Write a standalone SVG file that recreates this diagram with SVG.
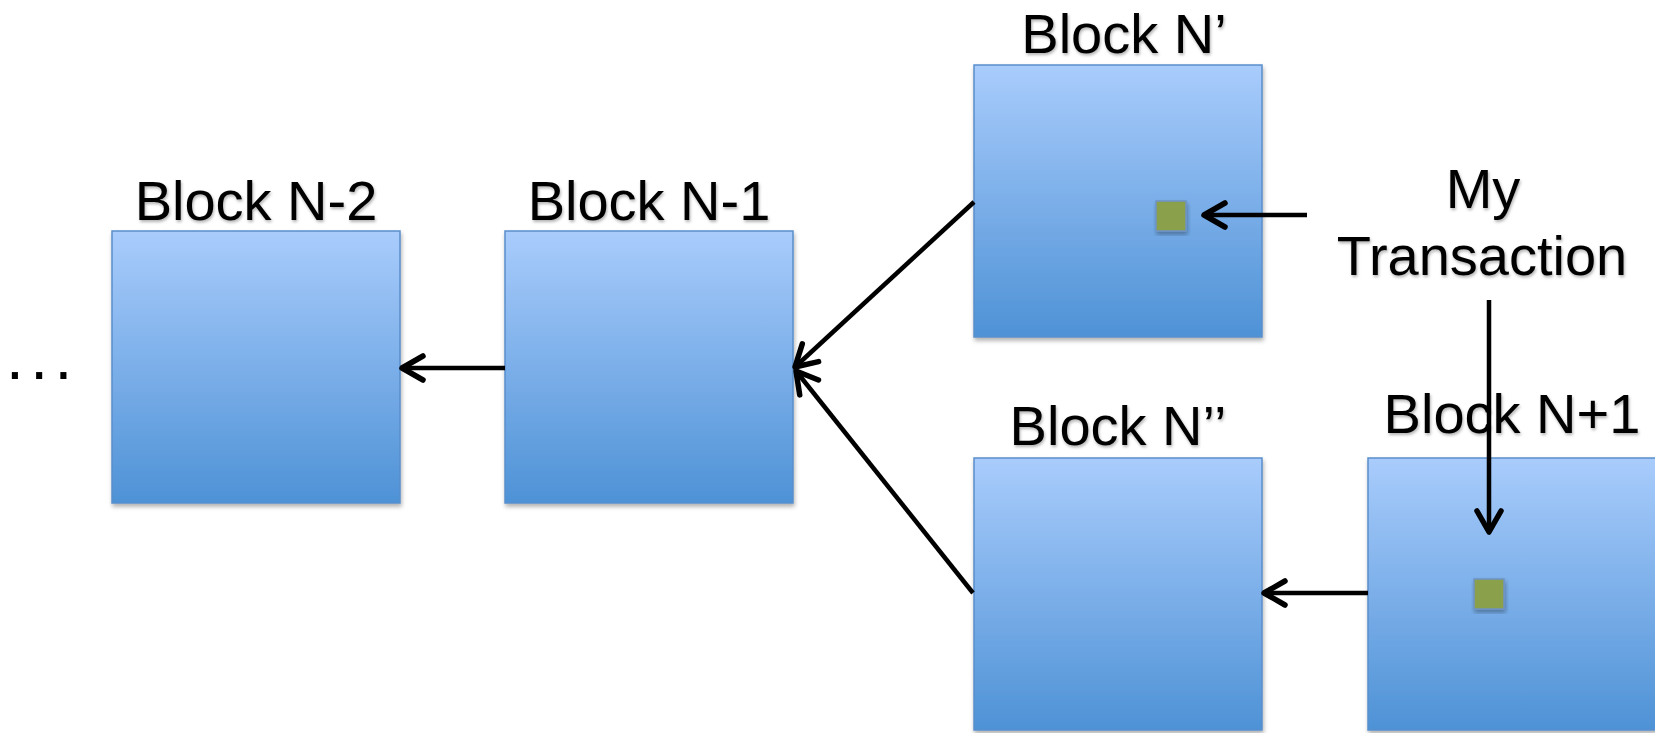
<svg xmlns="http://www.w3.org/2000/svg" width="1655" height="733" viewBox="0 0 1655 733">
  <style>
    .block { fill: url(#blueGrad); stroke: #5A8ECB; stroke-width: 1.5; filter: url(#boxShadow); }
    .tx { fill: #8AA04C; stroke: #6F93C4; stroke-width: 1.5; filter: url(#boxShadow); }
    .label { font-family: "Liberation Sans", Arial, sans-serif; font-size: 56px; fill: #000; text-anchor: middle; filter: url(#textShadow); }
    .dots { font-family: "Liberation Sans", Arial, sans-serif; font-size: 64px; fill: #000; letter-spacing: 6.5px; }
    .conn { stroke: #000; stroke-width: 4.5; fill: none; marker-end: url(#arrow); }
  </style>
  <defs>
    <linearGradient id="blueGrad" x1="0" y1="0" x2="0" y2="1">
      <stop offset="0" stop-color="#A9CCFC"/>
      <stop offset="1" stop-color="#4E92D6"/>
    </linearGradient>
    <filter id="boxShadow" x="-10%" y="-10%" width="125%" height="125%">
      <feDropShadow dx="1" dy="3" stdDeviation="2" flood-color="#000" flood-opacity="0.3"/>
    </filter>
    <filter id="textShadow" x="-10%" y="-20%" width="120%" height="150%">
      <feDropShadow dx="1" dy="2" stdDeviation="1.5" flood-color="#000" flood-opacity="0.3"/>
    </filter>
    <marker id="arrow" markerUnits="userSpaceOnUse" markerWidth="40" markerHeight="40" refX="0" refY="0" viewBox="-30 -20 40 40" orient="auto" overflow="visible">
      <path d="M -21 -12 L 0 0 L -21 12" fill="none" stroke="#000" stroke-width="5.5" stroke-linecap="round" stroke-linejoin="round"/>
    </marker>
  </defs>

  <text class="dots" x="6" y="379">...</text>

  <g id="block-n-2">
    <rect class="block" x="112" y="231" width="288" height="272"/>
    <text class="label" x="256" y="220">Block N-2</text>
  </g>

  <g id="block-n-1">
    <rect class="block" x="505" y="231" width="288" height="272"/>
    <text class="label" x="649" y="220">Block N-1</text>
  </g>

  <g id="block-n-prime">
    <rect class="block" x="974" y="65" width="288" height="272"/>
    <rect class="tx" x="1156" y="201" width="30" height="30"/>
    <text class="label" x="1124" y="53">Block N’</text>
  </g>

  <g id="block-n-double-prime">
    <rect class="block" x="974" y="458" width="288" height="272"/>
    <text class="label" x="1118" y="445">Block N’’</text>
  </g>

  <g id="my-transaction">
    <text class="label" x="1483" y="208">My</text>
    <text class="label" x="1482" y="275">Transaction</text>
  </g>

  <g id="block-n-plus-1">
    <rect class="block" x="1368" y="458" width="288" height="272"/>
    <rect class="tx" x="1474" y="579" width="30" height="30"/>
    <text class="label" x="1512" y="433">Block N+1</text>
  </g>

  <g id="connectors">
    <line class="conn" x1="505" y1="368" x2="402" y2="368"/>
    <line class="conn" x1="974" y1="202" x2="795" y2="367"/>
    <line class="conn" x1="973" y1="593" x2="796" y2="371"/>
    <line class="conn" x1="1307" y1="215" x2="1204" y2="215"/>
    <line class="conn" x1="1489" y1="300" x2="1489" y2="532"/>
    <line class="conn" x1="1368" y1="593" x2="1264" y2="593"/>
  </g>
</svg>
